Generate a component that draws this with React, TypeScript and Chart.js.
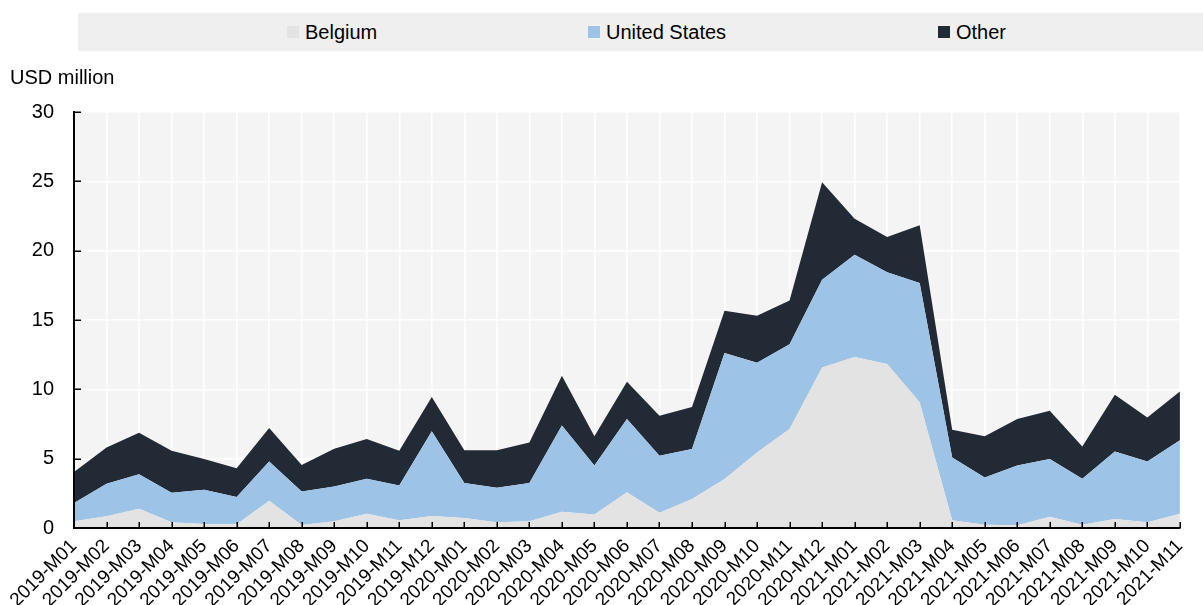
import React, { useEffect, useRef } from "react";
import { Chart, registerables } from "chart.js";

Chart.register(...registerables);

const months = [
  "2019-M01", "2019-M02", "2019-M03", "2019-M04", "2019-M05", "2019-M06",
  "2019-M07", "2019-M08", "2019-M09", "2019-M10", "2019-M11", "2019-M12",
  "2020-M01", "2020-M02", "2020-M03", "2020-M04", "2020-M05", "2020-M06",
  "2020-M07", "2020-M08", "2020-M09", "2020-M10", "2020-M11", "2020-M12",
  "2021-M01", "2021-M02", "2021-M03", "2021-M04", "2021-M05", "2021-M06",
  "2021-M07", "2021-M08", "2021-M09", "2021-M10", "2021-M11",
];

const belgium = [
  0.48, 0.84, 1.39, 0.41, 0.29, 0.27, 1.97, 0.21, 0.48, 1.03, 0.55, 0.86,
  0.72, 0.41, 0.48, 1.18, 0.98, 2.57, 1.1, 2.09, 3.53, 5.45, 7.14, 11.58,
  12.33, 11.82, 9.06, 0.55, 0.24, 0.19, 0.81, 0.24, 0.65, 0.41, 1.03,
];

const unitedStates = [
  1.32, 2.35, 2.48, 2.14, 2.47, 1.96, 2.83, 2.43, 2.52, 2.52, 2.52, 6.11,
  2.52, 2.5, 2.76, 6.22, 3.53, 5.29, 4.11, 3.6, 9.09, 6.47, 6.12, 6.32,
  7.37, 6.63, 8.6, 4.54, 3.41, 4.32, 4.16, 3.31, 4.87, 4.39, 5.29,
];

const other = [
  2.24, 2.62, 3.0, 3.02, 2.21, 2.07, 2.41, 1.9, 2.72, 2.87, 2.5, 2.47,
  2.36, 2.69, 2.93, 3.58, 2.1, 2.69, 2.89, 3.03, 3.05, 3.39, 3.15, 7.04,
  2.6, 2.53, 4.18, 2.0, 2.96, 3.35, 3.49, 2.33, 4.09, 3.17, 3.53,
];

const yTicks = [0, 5, 10, 15, 20, 25, 30];

const seriesNames = ["Belgium", "United States", "Other"];
const seriesColors = ["#e3e3e3", "#9dc3e6", "#222a35"];

const SANS = "'Liberation Sans', Arial, sans-serif";
const NARROW = "'Liberation Sans Narrow', 'Arial Narrow', 'Liberation Sans', Arial, sans-serif";

export default function App() {
  const ref = useRef<HTMLCanvasElement>(null);

  useEffect(() => {
    if (!ref.current) return;
    const bgPlugin = {
      id: "plotBg",
      beforeDraw(chart: any) {
        const { ctx, chartArea: a } = chart;
        ctx.save();
        ctx.fillStyle = "#f4f4f4";
        ctx.fillRect(a.left, a.top, a.right - a.left, a.bottom - a.top);
        ctx.restore();
      },
    };
    const tickPlugin = {
      id: "innerTicks",
      afterDraw(chart: any) {
        const { ctx } = chart;
        const xs = chart.scales.x;
        const ys = chart.scales.y;
        ctx.save();
        ctx.strokeStyle = "#000";
        ctx.lineWidth = 1.5;
        ctx.beginPath();
        yTicks.forEach((v) => {
          const py = Math.round(ys.getPixelForValue(v)) + 0.25;
          ctx.moveTo(xs.left, py);
          ctx.lineTo(xs.left + 7, py);
        });
        months.forEach((_, i) => {
          const px = Math.round(xs.getPixelForValue(i)) + 0.25;
          ctx.moveTo(px, ys.bottom);
          ctx.lineTo(px, ys.bottom - 6);
        });
        ctx.stroke();
        ctx.restore();
      },
    };

    const data = [belgium, unitedStates, other];
    const chart = new Chart(ref.current, {
      type: "line",
      data: {
        labels: months,
        datasets: data.map((d, i) => ({
          label: seriesNames[i],
          data: d,
          backgroundColor: seriesColors[i],
          borderColor: seriesColors[i],
          borderWidth: 0,
          pointRadius: 0,
          tension: 0,
          fill: i === 0 ? "origin" : "-1",
        })),
      },
      options: {
        animation: false,
        responsive: false,
        devicePixelRatio: 1,
        layout: {
          autoPadding: false,
          padding: { top: 112, right: 1, left: 0, bottom: 0 },
        },
        plugins: {
          legend: { display: false },
          tooltip: { enabled: false },
          title: { display: false },
        },
        scales: {
          x: {
            type: "category",
            offset: false,
            grid: {
              color: "#ffffff",
              lineWidth: 1.5,
              drawTicks: false,
              offset: false,
            },
            border: { color: "#000", width: 2, z: 1 },
            ticks: {
              autoSkip: false,
              maxRotation: 45,
              minRotation: 45,
              padding: 7,
              color: "#000",
              font: { family: NARROW, size: 19 },
            },
            afterFit(scale: any) {
              scale.height = 77;
            },
          },
          y: {
            stacked: true,
            min: 0,
            max: 30,
            grid: {
              color: "#ffffff",
              lineWidth: 1.5,
              drawTicks: false,
            },
            border: { color: "#000", width: 2, z: 1 },
            ticks: {
              stepSize: 5,
              padding: 20,
              color: "#000",
              font: { family: NARROW, size: 20 },
            },
            afterFit(scale: any) {
              scale.width = 74;
            },
          },
        },
      },
      plugins: [bgPlugin, tickPlugin],
    });
    return () => chart.destroy();
  }, []);

  const legendPos = [287, 588, 938];

  return (
    <div
      style={{
        position: "absolute",
        left: 0,
        top: 0,
        width: 1203,
        height: 605,
        background: "#fff",
        fontFamily: SANS,
      }}
    >
      <canvas
        ref={ref}
        width={1203}
        height={605}
        style={{ position: "absolute", left: 0, top: 0, width: 1203, height: 605 }}
      />
      <div
        style={{
          position: "absolute",
          left: 78,
          top: 13,
          width: 1125,
          height: 38,
          background: "#efefef",
        }}
      />
      {seriesNames.map((name, i) => (
        <div
          key={name}
          style={{
            position: "absolute",
            left: legendPos[i],
            top: 13,
            height: 38,
            lineHeight: "38px",
            fontSize: 20,
            color: "#000",
            whiteSpace: "nowrap",
            display: "flex",
            alignItems: "center",
          }}
        >
          <span
            style={{
              display: "inline-block",
              width: 12,
              height: 12,
              background: seriesColors[i],
              marginRight: 6,
            }}
          />
          <span>{name}</span>
        </div>
      ))}
      <div
        style={{
          position: "absolute",
          left: 10,
          top: 67,
          fontSize: 20,
          lineHeight: "20px",
          color: "#000",
          whiteSpace: "nowrap",
        }}
      >
        USD million
      </div>
    </div>
  );
}
